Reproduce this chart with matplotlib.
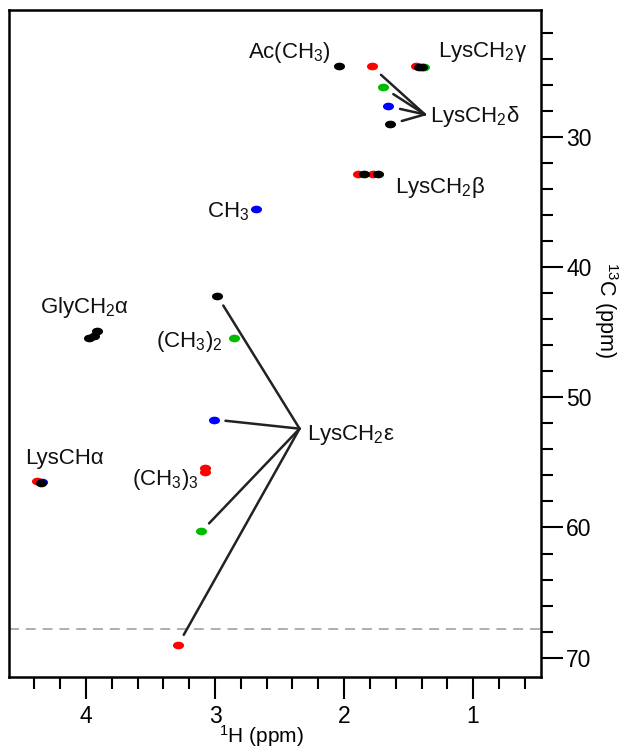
import matplotlib
matplotlib.use("Agg")
import matplotlib.pyplot as plt
from matplotlib.path import Path
from matplotlib.transforms import Affine2D

plt.rcParams['font.family'] = ['Liberation Sans', 'DejaVu Sans']
plt.rcParams['mathtext.fontset'] = 'custom'
plt.rcParams['mathtext.rm'] = 'Liberation Sans'
plt.rcParams['mathtext.it'] = 'Liberation Sans:italic'

# picos (1H ppm, 13C ppm) por color
red_h = [1.786, 1.444, 1.894, 1.778, 3.075, 3.075, 4.38, 3.285]
red_c = [24.54, 24.50, 32.85, 32.85, 55.40, 55.75, 56.45, 69.0]

green_h = [1.700, 1.38, 2.85, 3.106]
green_c = [26.15, 24.60, 45.46, 60.3]

blue_h = [1.661, 2.679, 3.005, 4.345]
blue_c = [27.60, 35.54, 51.70, 56.50]

black_h = [2.042, 1.646, 1.42, 1.40, 1.848, 1.739, 2.982, 3.977, 3.94, 3.915, 4.35]
black_c = [24.54, 29.00, 24.62, 24.62, 32.85, 32.85, 42.2, 45.46, 45.3, 44.9, 56.55]

# etiquetas: texto, x, y (linea base)
labels = [
    (r'Ac(CH$_3$)', 2.745, 23.92),
    (r'LysCH$_2$γ', 1.27, 23.85),
    (r'LysCH$_2$δ', 1.335, 28.85),
    (r'LysCH$_2$β', 1.605, 34.30),
    (r'CH$_3$', 3.065, 36.15),
    (r'GlyCH$_2$α', 4.36, 43.54),
    (r'(CH$_3$)$_2$', 3.455, 46.15),
    (r'LysCH$_2$ε', 2.29, 53.30),
    (r'LysCHα', 4.47, 55.15),
    (r'(CH$_3$)$_3$', 3.64, 56.77),
]

# lineas de asignacion: vertice y puntos destino
delta_vertex = (1.374, 28.23)
delta_targets = [(red_h[0], red_c[0]), (green_h[0], green_c[0]),
                 (blue_h[0], blue_c[0]), (black_h[1], black_c[1])]
eps_vertex = (2.345, 52.4)
eps_targets = [(black_h[6], black_c[6]), (blue_h[2], blue_c[2]),
               (green_h[3], green_c[3]), (red_h[7], red_c[7])]

cutoff = 67.8

ellipse = Path.unit_circle().transformed(Affine2D().scale(1.45, 1.0))

fig = plt.figure(figsize=(6.27, 7.52), dpi=100)
ax = fig.add_axes([0.0144, 0.0997, 0.8486, 0.887])

ax.axhline(cutoff, color='#999999', lw=1.1, ls=(0, (6.5, 4.5)), zorder=1)

for tx, ty in delta_targets:
    ax.annotate('', xy=(tx, ty), xytext=delta_vertex,
                arrowprops=dict(arrowstyle='-', color='#222222', lw=1.8,
                                shrinkA=0, shrinkB=9))
for tx, ty in eps_targets:
    ax.annotate('', xy=(tx, ty), xytext=eps_vertex,
                arrowprops=dict(arrowstyle='-', color='#222222', lw=1.8,
                                shrinkA=0, shrinkB=8))

for hs, cs, col in [(red_h, red_c, '#ff0000'), (green_h, green_c, '#00bb00'),
                    (blue_h, blue_c, '#0000ff'), (black_h, black_c, 'black')]:
    ax.plot(hs, cs, ls='none', marker=ellipse, ms=8, color=col, mec='none', zorder=3)

for txt, x, y in labels:
    ax.text(x, y, txt, fontsize=16, ha='left', va='baseline', color='#111111')

ax.set_xlim(4.597, 0.473)
ax.set_ylim(71.5, 20.2)

ax.set_xticks([4, 3, 2, 1])
ax.set_xticks([round(0.6 + 0.2 * i, 1) for i in range(20)], minor=True)
ax.set_yticks([30, 40, 50, 60, 70])
ax.set_yticks(list(range(22, 71, 2)), minor=True)

ax.yaxis.tick_right()
ax.xaxis.tick_bottom()
ax.tick_params(which='major', direction='out', length=16, width=1.5, labelsize=16.5, pad=4)
ax.tick_params(which='minor', direction='out', length=8.5, width=1.5)
ax.tick_params(axis='y', which='major', pad=2)

for s in ax.spines.values():
    s.set_linewidth(1.8)

ax.set_xlabel(r'$^{1}$H (ppm)', fontsize=15, va='center')
ax.xaxis.set_label_coords(0.475, -0.088)
ax.yaxis.set_label_position('right')
ax.set_ylabel(r'$^{13}$C (ppm)', fontsize=15.5, rotation=270, va='center', ha='center')
ax.yaxis.set_label_coords(1.122, 0.55)

fig.savefig('out.png', dpi=100)
